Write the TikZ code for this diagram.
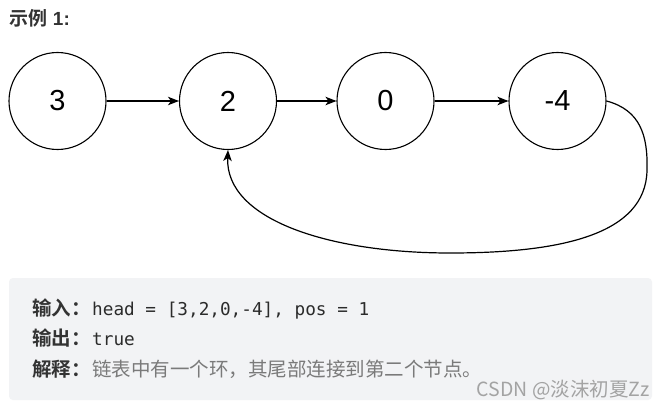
\documentclass[tikz,border=0pt]{standalone}
\usepackage{fontspec}
\setmainfont{Liberation Sans}
\newfontfamily\cjk{Noto Sans CJK SC}[BoldFont={Noto Sans CJK SC Bold}]
\newfontfamily\monof{DejaVu Sans Mono}
\usetikzlibrary{arrows.meta}
\definecolor{boxbg}{HTML}{F2F3F5}
\definecolor{labc}{HTML}{333333}
\definecolor{codec}{HTML}{2B2B2B}
\definecolor{expc}{HTML}{7A7A7A}
\definecolor{wmc}{HTML}{A3A3A3}
\tikzset{
  listnode/.style={circle, draw=black, line width=1.1pt, minimum size=97pt, inner sep=0pt,
    font=\fontsize{29}{30}\selectfont},
  arr/.style={line width=1.2pt, -{Stealth[length=11pt,width=8.5pt,inset=3pt]}},
  lab/.style={anchor=base west, inner sep=0pt, text=labc, font=\cjk\bfseries\fontsize{19.5}{22}\selectfont},
  code/.style={anchor=base west, inner sep=0pt, text=codec, font=\monof\fontsize{17.7}{20}\selectfont},
  expl/.style={anchor=base west, inner sep=0pt, text=expc, font=\cjk\fontsize{19.5}{22}\selectfont},
}
\begin{document}
\begin{tikzpicture}[x=1pt,y=-1pt]
\useasboundingbox (0,0) rectangle (664,409);
\fill[white] (0,0) rectangle (664,409);
% title
\node[anchor=base west, inner sep=0pt, text=labc, font=\bfseries\fontsize{19}{22}\selectfont] (title) at (9.5,26) {{\cjk 示例} 1:};
% nodes
\node[listnode] (n1) at (57.5,101) {3};
\node[listnode] (n2) at (228,101) {2};
\node[listnode] (n3) at (385.5,101) {0};
\node[listnode] (n4) at (557.5,101) {-4};
\draw[arr] (n1) -- (n2);
\draw[arr] (n2) -- (n3);
\draw[arr] (n3) -- (n4);
\draw[arr] (n4.east) .. controls (640,110) and (648,135) .. (647,170)
  .. controls (646,235) and (560,253) .. (450,253)
  .. controls (330,253) and (225,220) .. (n2.south);
% box
\fill[boxbg, rounded corners=4pt] (9,278) rectangle (652,400);
\node[lab] (l1) at (32,315) {输入：};
\node[code] (c1) at (92,315) {head = [3,2,0,-4], pos = 1};
\node[lab] (l2) at (32,345.5) {输出：};
\node[code] (c2) at (92,345.5) {true};
\node[lab] (l3) at (32,376) {解释：};
\node[expl] (c3) at (92,376) {链表中有一个环，其尾部连接到第二个节点。};
% watermark
\node[anchor=base east, inner sep=0pt, text=wmc, font=\cjk\fontsize{19.5}{22}\selectfont] (wm) at (650,396) {CSDN @淡沫初夏Zz};
\end{tikzpicture}
\end{document}
